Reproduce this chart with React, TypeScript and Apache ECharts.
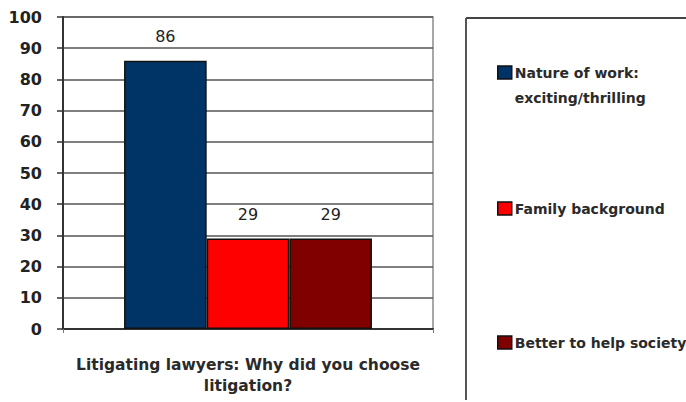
import React, { useEffect, useRef } from "react";
import * as echarts from "echarts";

const categories = [""];
const seriesNames = [
  "Nature of work: exciting/thrilling",
  "Family background",
  "Better to help society",
];
const legendLines: Record<string, string> = {
  "Nature of work: exciting/thrilling": " \nNature of work:\nexciting/thrilling",
};
const seriesValues = [[86], [29], [29]];
const seriesColors = ["#003366", "#FF0000", "#800000"];
const xTitle = "Litigating lawyers: Why did you choose\nlitigation?";

export default function App() {
  const ref = useRef<HTMLDivElement>(null);
  useEffect(() => {
    const chart = echarts.init(ref.current!, null, { renderer: "svg" });
    const font = "DejaVu Sans";
    const legendTops = [35, 196, 330];
    chart.setOption({
      animation: false,
      backgroundColor: "#ffffff",
      grid: {
        left: 63,
        right: 253,
        top: 17,
        bottom: 73,
        show: true,
        borderColor: "#8a8a8a",
        borderWidth: 1.5,
        backgroundColor: "transparent",
      },
      legend: seriesNames.map((n, i) => ({
        data: [n],
        left: 497,
        top: legendTops[i],
        padding: 0,
        orient: "vertical",
        itemWidth: 14,
        itemHeight: 13,
        itemGap: 4,
        icon: "rect",
        selectedMode: false,
        formatter: (name: string) => legendLines[name] ?? name,
        itemStyle: { borderColor: "#111", borderWidth: 1.5 },
        textStyle: {
          fontFamily: font,
          fontWeight: "bold",
          fontSize: 14,
          color: "#2a2a2a",
          lineHeight: 25,
          padding: [0, 0, 0, -2],
        },
      })),
      xAxis: {
        type: "category",
        data: categories,
        name: xTitle,
        nameLocation: "middle",
        nameGap: 25,
        nameTextStyle: {
          fontFamily: font,
          fontWeight: "bold",
          fontSize: 15.5,
          color: "#2a2a2a",
          lineHeight: 21,
        },
        axisLine: { show: true, lineStyle: { color: "#333", width: 2 } },
        axisTick: { show: true, length: 4, lineStyle: { color: "#777" } },
        axisLabel: { show: false },
      },
      yAxis: {
        type: "value",
        min: 0,
        max: 100,
        interval: 10,
        axisLine: { show: true, lineStyle: { color: "#333", width: 2 } },
        axisTick: { show: true, length: 6, lineStyle: { color: "#333", width: 1.5 } },
        axisLabel: {
          margin: 21,
          fontFamily: font,
          fontWeight: "bold",
          fontSize: 16,
          color: "#222",
        },
        splitLine: { show: true, lineStyle: { color: "#555", width: 1.5 } },
      },
      series: seriesNames.map((n, i) => ({
        type: "bar",
        name: n,
        data: seriesValues[i],
        barGap: "0%",
        barCategoryGap: "33%",
        itemStyle: { color: seriesColors[i], borderColor: "#111", borderWidth: 1.5 },
        label: {
          show: true,
          position: "top",
          distance: 16,
          fontFamily: font,
          fontSize: 16,
          color: "#222",
        },
      })),
      graphic: [
        {
          type: "line",
          shape: { x1: 466, y1: 18, x2: 466, y2: 400 },
          style: { stroke: "#555", lineWidth: 2 },
        },
        {
          type: "line",
          shape: { x1: 466, y1: 18, x2: 686, y2: 18 },
          style: { stroke: "#444", lineWidth: 2 },
        },
      ],
    });
    return () => chart.dispose();
  }, []);
  return (
    <div
      ref={ref}
      style={{ position: "fixed", left: 0, top: 0, width: 686, height: 402 }}
    />
  );
}
